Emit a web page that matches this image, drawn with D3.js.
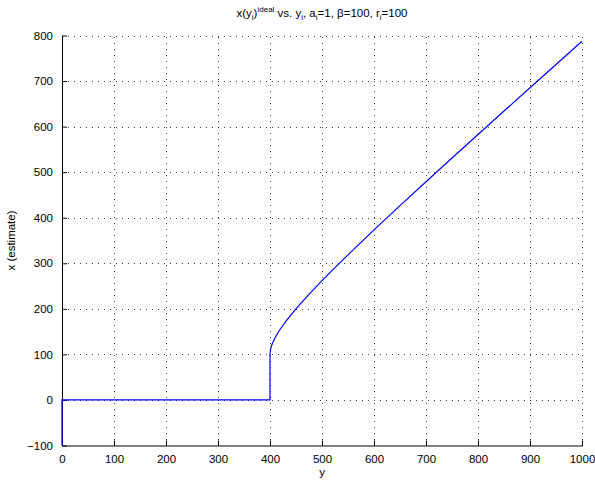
<!DOCTYPE html>
<html><head><meta charset="utf-8">
<script src="https://cdn.jsdelivr.net/npm/d3@7"></script>
<style>
body{margin:0;background:#fff;}
text{font-family:"Liberation Sans",Arial,Helvetica,sans-serif;}
</style></head>
<body>
<svg id="chart" width="595" height="480"></svg>
<script>
const yValues = [0, 0, 400, 400, 401, 402, 403, 405, 410, 415, 420, 425, 430, 440, 450, 460, 475, 500, 525, 550, 600, 650, 700, 750, 800, 850, 900, 950, 1000];
const xValues = [-100, 0, 0, 100, 110.5, 115.2, 118.9, 125, 137, 147, 155.8, 164, 171.8, 186.3, 200, 213.1, 231.9, 261.8, 290.6, 318.6, 373.2, 426.6, 479.1, 531.2, 582.8, 634.2, 685.4, 736.4, 787.3];
const xTicks = [0, 100, 200, 300, 400, 500, 600, 700, 800, 900, 1000];
const yTicks = [-100, 0, 100, 200, 300, 400, 500, 600, 700, 800];

const svg = d3.select("#chart");
const L = 62, R = 582, T = 35.5, B = 445.5;
const sx = d3.scaleLinear().domain([0, 1000]).range([L, R]);
const sy = d3.scaleLinear().domain([-100, 800]).range([B, T]);

// grid
const grid = svg.append("g").attr("stroke", "#000").attr("stroke-width", 1)
  .attr("stroke-dasharray", "1,5").attr("stroke-opacity", 0.75).attr("shape-rendering","crispEdges");
grid.selectAll(".gx").data(xTicks.slice(1)).enter().append("line")
  .attr("x1", d => Math.round(sx(d)) + 0.5).attr("x2", d => Math.round(sx(d)) + 0.5)
  .attr("y1", B).attr("y2", T);
grid.selectAll(".gy").data(yTicks.slice(1)).enter().append("line")
  .attr("y1", d => Math.round(sy(d)) + 0.5).attr("y2", d => Math.round(sy(d)) + 0.5)
  .attr("x1", L).attr("x2", R);

// axes
const xAxis = d3.axisBottom(sx).tickValues(xTicks).tickSizeInner(-5).tickSizeOuter(0).tickPadding(9)
  .tickFormat(d3.format("d"));
const yAxis = d3.axisLeft(sy).tickValues(yTicks).tickSizeInner(-5).tickSizeOuter(0).tickPadding(9)
  .tickFormat(d => d < 0 ? "\u2212" + Math.abs(d) : String(d));
const gx = svg.append("g").attr("transform", `translate(0,${B})`).call(xAxis);
const gy = svg.append("g").attr("transform", `translate(${L},0)`).call(yAxis);
[gx, gy].forEach(g => {
  g.select(".domain").attr("stroke", "#000");
  g.selectAll(".tick line").attr("stroke", "#000");
  g.selectAll("text").attr("font-size", 11.5).attr("fill", "#000")
    .attr("font-family", '"Liberation Sans",Arial,sans-serif');
});

// line
const pts = yValues.map((v, i) => [v, xValues[i]]);
svg.append("path").datum(pts)
  .attr("fill", "none").attr("stroke", "#0000ff").attr("stroke-width", 1.2)
  .attr("d", d3.line().x(d => sx(d[0])).y(d => sy(d[1])).curve(d3.curveLinear));

// labels
svg.append("text").attr("x", (L + R) / 2).attr("y", 476).attr("text-anchor", "middle")
  .attr("font-size", 11.5).text("y");
svg.append("text").attr("transform", `translate(15,${(T + B) / 2}) rotate(-90)`)
  .attr("text-anchor", "middle").attr("font-size", 11.5).text("x (estimate)");

const title = svg.append("text").attr("x", (L + R) / 2).attr("y", 17).attr("text-anchor", "middle")
  .attr("font-size", 11.5);
title.append("tspan").text("x(y");
title.append("tspan").attr("font-size", 8).attr("dy", 3).text("i");
title.append("tspan").attr("dy", -3).text(")");
title.append("tspan").attr("font-size", 8).attr("dy", -5).text("ideal");
title.append("tspan").attr("dy", 5).text(" vs. y");
title.append("tspan").attr("font-size", 8).attr("dy", 3).text("i");
title.append("tspan").attr("dy", -3).text(", a");
title.append("tspan").attr("font-size", 8).attr("dy", 3).text("i");
title.append("tspan").attr("dy", -3).text("=1, \u03B2=100, r");
title.append("tspan").attr("font-size", 8).attr("dy", 3).text("i");
title.append("tspan").attr("dy", -3).text("=100");
</script>
</body></html>
